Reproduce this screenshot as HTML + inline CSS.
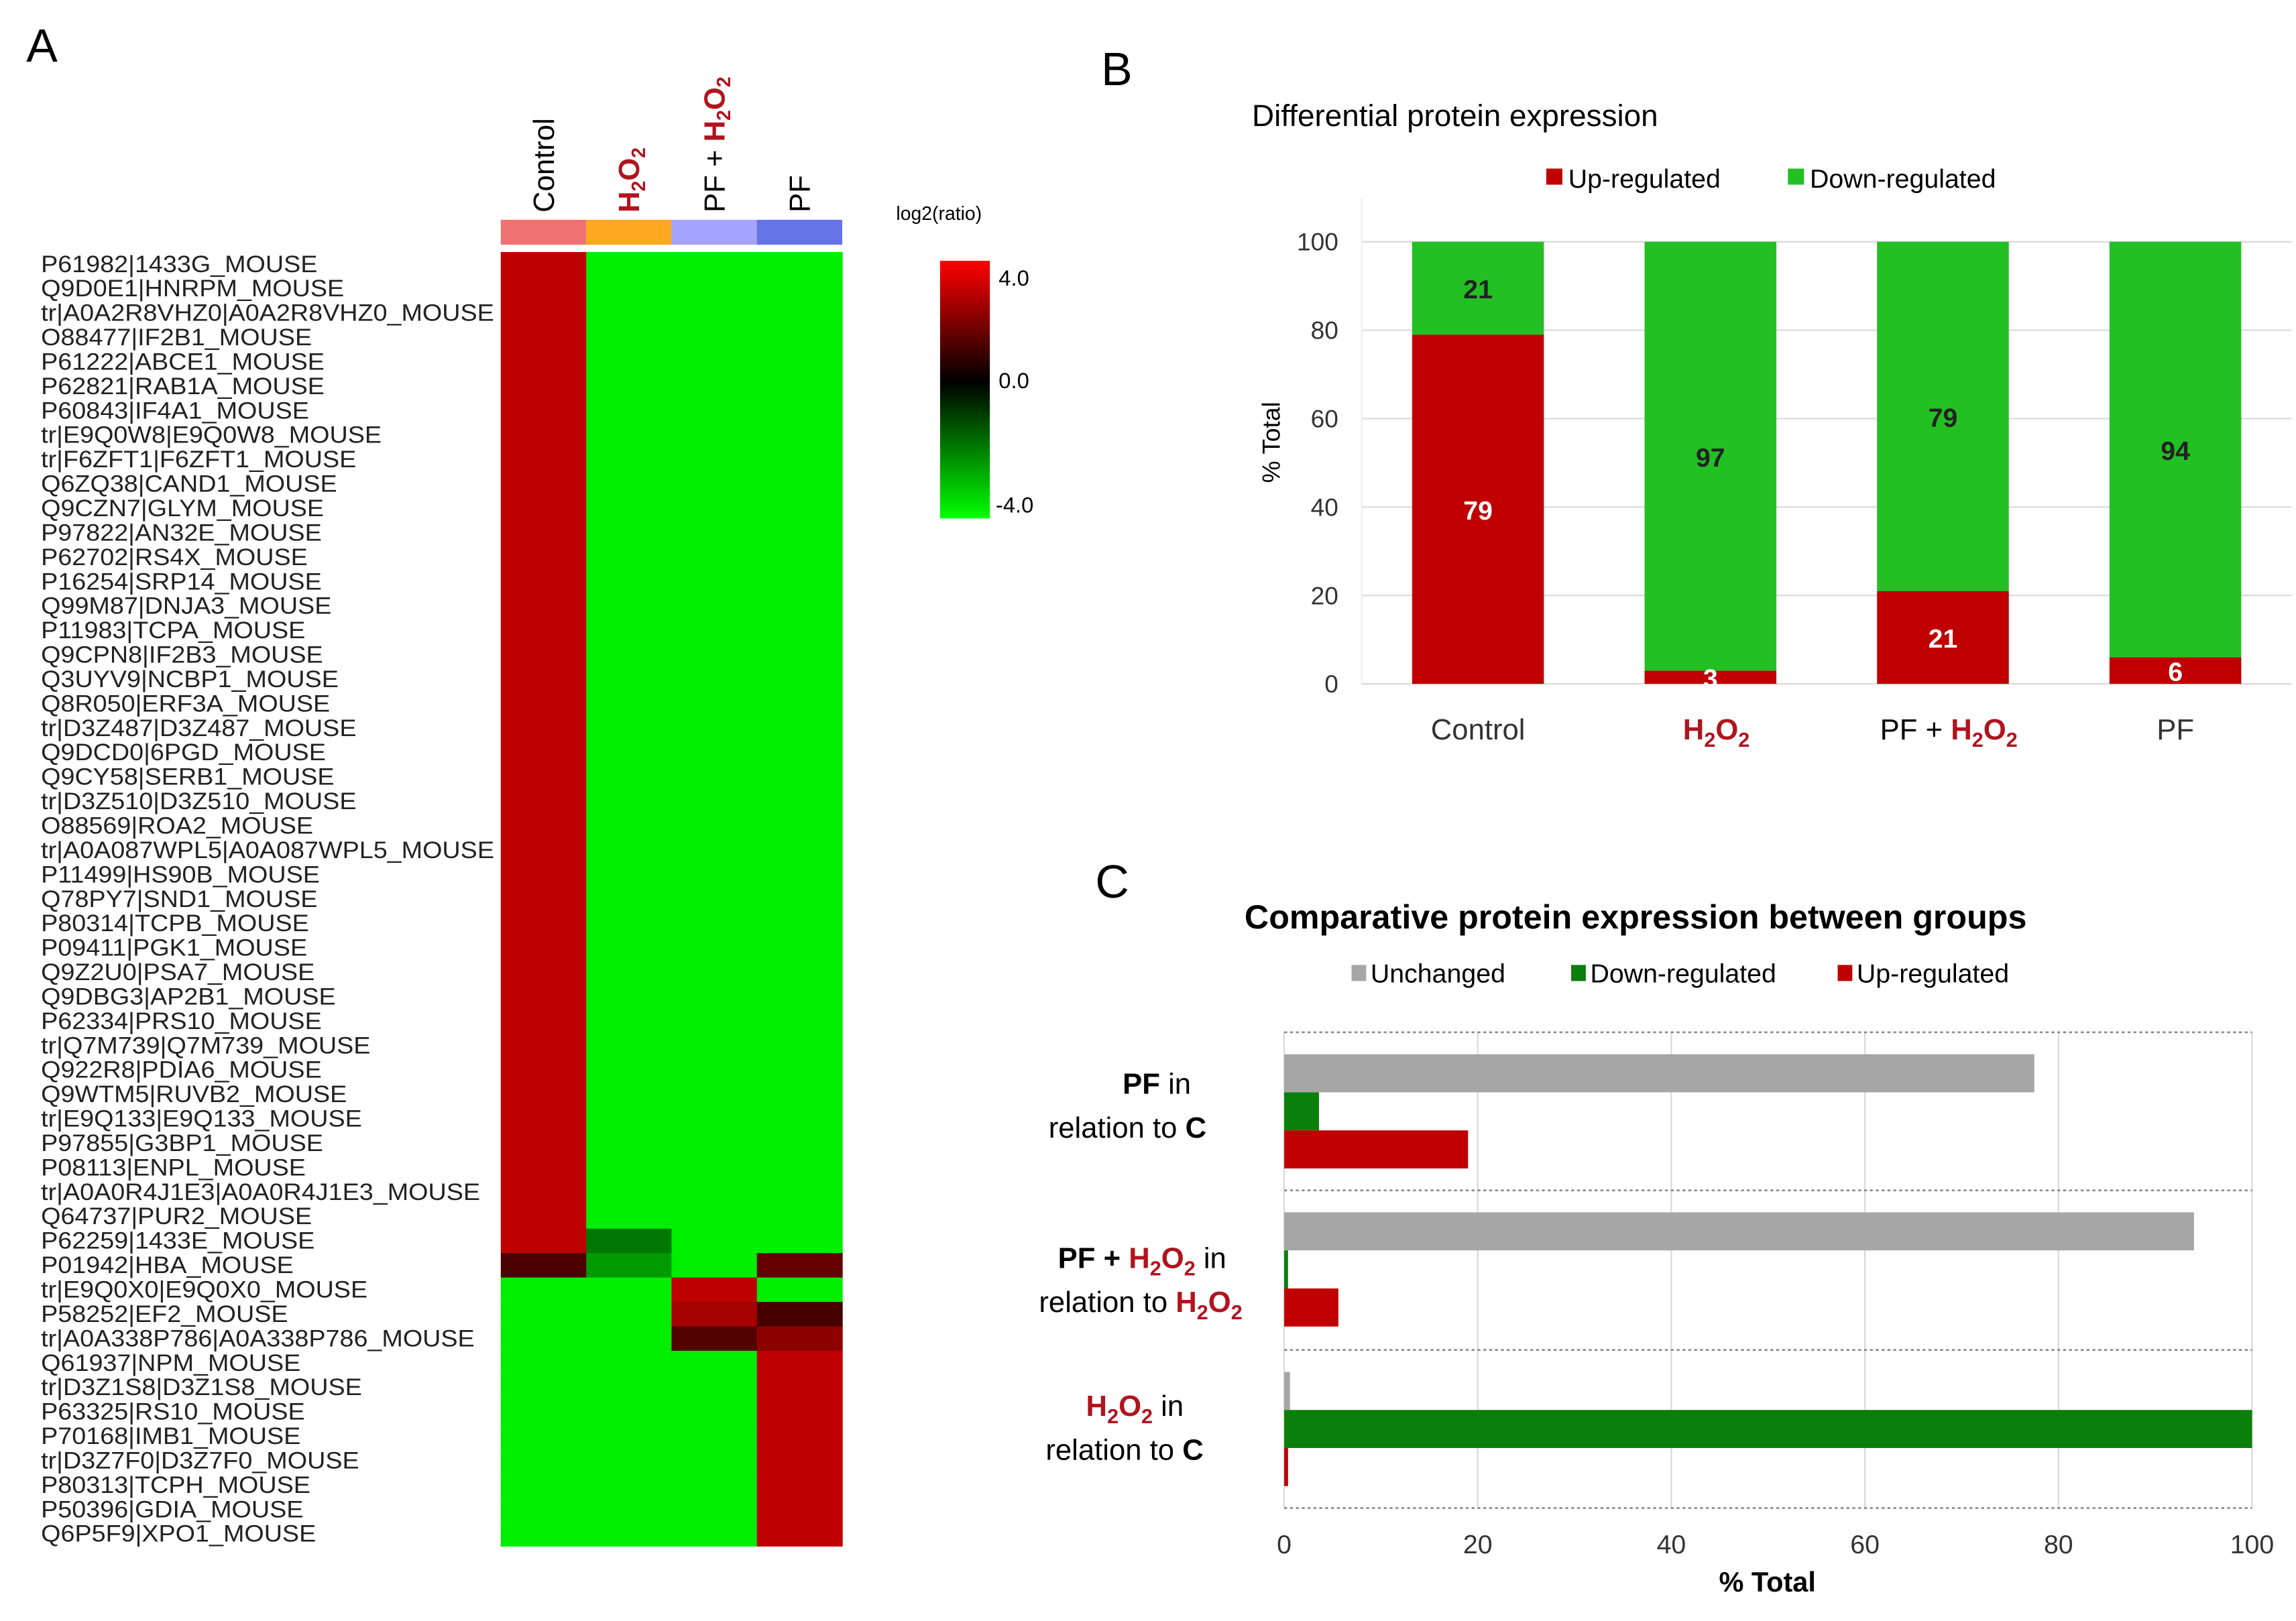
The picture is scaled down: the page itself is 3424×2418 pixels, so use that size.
<!DOCTYPE html>
<html><head><meta charset="utf-8"><style>
html,body{margin:0;padding:0;background:#fff;}
svg{display:block;font-family:"Liberation Sans",Arial,sans-serif;}
</style></head><body>
<svg id="fig" width="3424" height="2418" viewBox="0 0 1568 1107" xmlns="http://www.w3.org/2000/svg">
<rect width="1568" height="1107" fill="#fff"/>
<text x="18" y="42" font-size="32">A</text>
<text x="752" y="58" font-size="32">B</text>
<text x="748" y="613" font-size="32">C</text>
<g id="heat"></g>
<g id="cbar">
<defs><linearGradient id="cg" x1="0" y1="0" x2="0" y2="1">
<stop offset="0" stop-color="#ff0000"/><stop offset="0.47" stop-color="#000"/><stop offset="1" stop-color="#00ff00"/></linearGradient></defs>
<text x="612" y="150" font-size="13">log2(ratio)</text>
<rect x="642" y="178" width="34" height="176" fill="url(#cg)"/>
<text x="682" y="195" font-size="15">4.0</text>
<text x="682" y="265" font-size="15">0.0</text>
<text x="680" y="350" font-size="15">-4.0</text>
</g>
<g id="chartB"></g>
<g id="chartC"></g>
</svg>
<script>
const NS='http://www.w3.org/2000/svg';
function mk(tag,attrs,parent,text){const e=document.createElementNS(NS,tag);for(const k in attrs)e.setAttribute(k,attrs[k]);if(text!==undefined)e.textContent=text;parent.appendChild(e);return e;}

// ---------- Heatmap data ----------
const proteins=["P61982|1433G_MOUSE","Q9D0E1|HNRPM_MOUSE","tr|A0A2R8VHZ0|A0A2R8VHZ0_MOUSE","O88477|IF2B1_MOUSE","P61222|ABCE1_MOUSE","P62821|RAB1A_MOUSE","P60843|IF4A1_MOUSE","tr|E9Q0W8|E9Q0W8_MOUSE","tr|F6ZFT1|F6ZFT1_MOUSE","Q6ZQ38|CAND1_MOUSE","Q9CZN7|GLYM_MOUSE","P97822|AN32E_MOUSE","P62702|RS4X_MOUSE","P16254|SRP14_MOUSE","Q99M87|DNJA3_MOUSE","P11983|TCPA_MOUSE","Q9CPN8|IF2B3_MOUSE","Q3UYV9|NCBP1_MOUSE","Q8R050|ERF3A_MOUSE","tr|D3Z487|D3Z487_MOUSE","Q9DCD0|6PGD_MOUSE","Q9CY58|SERB1_MOUSE","tr|D3Z510|D3Z510_MOUSE","O88569|ROA2_MOUSE","tr|A0A087WPL5|A0A087WPL5_MOUSE","P11499|HS90B_MOUSE","Q78PY7|SND1_MOUSE","P80314|TCPB_MOUSE","P09411|PGK1_MOUSE","Q9Z2U0|PSA7_MOUSE","Q9DBG3|AP2B1_MOUSE","P62334|PRS10_MOUSE","tr|Q7M739|Q7M739_MOUSE","Q922R8|PDIA6_MOUSE","Q9WTM5|RUVB2_MOUSE","tr|E9Q133|E9Q133_MOUSE","P97855|G3BP1_MOUSE","P08113|ENPL_MOUSE","tr|A0A0R4J1E3|A0A0R4J1E3_MOUSE","Q64737|PUR2_MOUSE","P62259|1433E_MOUSE","P01942|HBA_MOUSE","tr|E9Q0X0|E9Q0X0_MOUSE","P58252|EF2_MOUSE","tr|A0A338P786|A0A338P786_MOUSE","Q61937|NPM_MOUSE","tr|D3Z1S8|D3Z1S8_MOUSE","P63325|RS10_MOUSE","P70168|IMB1_MOUSE","tr|D3Z7F0|D3Z7F0_MOUSE","P80313|TCPH_MOUSE","P50396|GDIA_MOUSE","Q6P5F9|XPO1_MOUSE"];
const heatGroups=["Control","H2O2","PF + H2O2","PF"];
const valControl=[3,3,3,3,3,3,3,3,3,3,3,3,3,3,3,3,3,3,3,3,3,3,3,3,3,3,3,3,3,3,3,3,3,3,3,3,3,3,3,3,3,1.2,-4,-4,-4,-4,-4,-4,-4,-4,-4,-4,-4];
const valH2O2=[-4,-4,-4,-4,-4,-4,-4,-4,-4,-4,-4,-4,-4,-4,-4,-4,-4,-4,-4,-4,-4,-4,-4,-4,-4,-4,-4,-4,-4,-4,-4,-4,-4,-4,-4,-4,-4,-4,-4,-4,-2,-2.6,-4,-4,-4,-4,-4,-4,-4,-4,-4,-4,-4];
const valPFH2O2=[-4,-4,-4,-4,-4,-4,-4,-4,-4,-4,-4,-4,-4,-4,-4,-4,-4,-4,-4,-4,-4,-4,-4,-4,-4,-4,-4,-4,-4,-4,-4,-4,-4,-4,-4,-4,-4,-4,-4,-4,-4,-4,3,2.6,1.3,-4,-4,-4,-4,-4,-4,-4,-4];
const valPF=[-4,-4,-4,-4,-4,-4,-4,-4,-4,-4,-4,-4,-4,-4,-4,-4,-4,-4,-4,-4,-4,-4,-4,-4,-4,-4,-4,-4,-4,-4,-4,-4,-4,-4,-4,-4,-4,-4,-4,-4,-4,1.6,-4,1.1,2.2,3,3,3,3,3,3,3,3];
const heatCols=[valControl,valH2O2,valPFH2O2,valPF];
const stripColors=["#f07272","#ffa820","#a4a4ff","#6474e4"];

const heat=document.getElementById('heat');
const hx0=342,hy0=172,cw=58.3,rh=(1056-172)/53;
function colorOf(v){if(v>=0){const r=Math.round(Math.min(v,4)/4*255);return `rgb(${r},0,0)`;}const g=Math.round(Math.min(-v,4)/4*238);return `rgb(0,${g},0)`;}
proteins.forEach((p,i)=>{
  const t=mk('text',{x:28,y:hy0+rh*i+rh*0.82,'font-size':16,fill:'#222'},heat,p);
  
  
  const len=t.getComputedTextLength();
  if(len>0){t.setAttribute('textLength',(len*1.08).toFixed(1));t.setAttribute('lengthAdjust','spacingAndGlyphs');}
});
heatCols.forEach((col,j)=>{
  col.forEach((v,i)=>{
    const r=mk('rect',{x:hx0+cw*j,y:hy0+rh*i,width:cw+0.3,height:rh+0.3,fill:colorOf(v)},heat);
    
    
  });
  const s=mk('rect',{x:hx0+cw*j,y:150,width:cw,height:17,fill:stripColors[j]},heat);
  
  
});
function colHeader(j,parts){
  const cx=hx0+cw*j+cw/2+7;
  const t=mk('text',{transform:`translate(${cx},145) rotate(-90)`,'font-size':20},heat);
  
  
  parts.forEach(p=>{mk('tspan',p.a,t,p.s);});
}
const red='#b0141e';
colHeader(0,[{a:{},s:'Control'}]);
colHeader(1,[{a:{fill:red,'font-weight':'bold'},s:'H'},{a:{fill:red,'font-weight':'bold','font-size':13,dy:4},s:'2'},{a:{fill:red,'font-weight':'bold',dy:-4},s:'O'},{a:{fill:red,'font-weight':'bold','font-size':13,dy:4},s:'2'}]);
colHeader(2,[{a:{},s:'PF + '},{a:{fill:red,'font-weight':'bold'},s:'H'},{a:{fill:red,'font-weight':'bold','font-size':13,dy:4},s:'2'},{a:{fill:red,'font-weight':'bold',dy:-4},s:'O'},{a:{fill:red,'font-weight':'bold','font-size':13,dy:4},s:'2'}]);
colHeader(3,[{a:{},s:'PF'}]);

// ---------- Chart B ----------
const bCategories=["Control","H2O2","PF + H2O2","PF"];
const bUp=[79,3,21,6];
const bDown=[21,97,79,94];
const bTicks=[0,20,40,60,80,100];
const B=document.getElementById('chartB');
const bx0=930,bx1=1565,by0=467,by1=165;
const bY=v=>by0-(v/100)*(by0-by1);
const bStep=(bx1-bx0)/4; const bX=i=>bx0+bStep*(i+0.5); const bw=90;
mk('text',{x:855,y:86,'font-size':21},B,'Differential protein expression');
bTicks.forEach(t=>{
  const l=mk('line',{x1:bx0,x2:bx1,y1:bY(t),y2:bY(t),stroke:'#d9d9d9','stroke-width':1},B);
  
  
  const tx=mk('text',{x:914,y:bY(t)+6,'font-size':17,'text-anchor':'end',fill:'#333'},B,String(t));
  
  
});
mk('line',{x1:bx0,x2:bx0,y1:135,y2:by0,stroke:'#eee'},B);
const yt=mk('text',{transform:'translate(874,302) rotate(-90)','font-size':17,'text-anchor':'middle'},B,'% Total');


mk('rect',{x:1056,y:115,width:11,height:11,fill:'#c00000'},B);
mk('text',{x:1071,y:128,'font-size':18},B,'Up-regulated');
mk('rect',{x:1221,y:115,width:11,height:11,fill:'#22c022'},B);
mk('text',{x:1236,y:128,'font-size':18},B,'Down-regulated');
bCategories.forEach((c,i)=>{
  const cx=bX(i);
  const r1=mk('rect',{x:cx-bw/2,y:bY(bUp[i]),width:bw,height:by0-bY(bUp[i]),fill:'#c00000'},B);
  
  
  const r2=mk('rect',{x:cx-bw/2,y:bY(bUp[i]+bDown[i]),width:bw,height:bY(bUp[i])-bY(bUp[i]+bDown[i]),fill:'#22c022'},B);
  
  
  const l1=mk('text',{x:cx,y:(bY(bUp[i])+by0)/2+7,'font-size':18,'font-weight':'bold',fill:'#fff','text-anchor':'middle'},B,String(bUp[i]));
  
  
  const l2=mk('text',{x:cx,y:(bY(bUp[i]+bDown[i])+bY(bUp[i]))/2+7,'font-size':18,'font-weight':'bold',fill:'#222','text-anchor':'middle'},B,String(bDown[i]));
  
  
  let xl;
  if(c==="H2O2"){xl=mk('text',{x:cx+4,y:505,'font-size':20,'text-anchor':'middle',fill:red,'font-weight':'bold'},B);
    mk('tspan',{},xl,'H');mk('tspan',{'font-size':14,dy:5},xl,'2');mk('tspan',{dy:-5},xl,'O');mk('tspan',{'font-size':14,dy:5},xl,'2');}
  else if(c==="PF + H2O2"){xl=mk('text',{x:cx+4,y:505,'font-size':20,'text-anchor':'middle'},B);
    mk('tspan',{},xl,'PF + ');mk('tspan',{fill:red,'font-weight':'bold'},xl,'H');mk('tspan',{fill:red,'font-weight':'bold','font-size':14,dy:5},xl,'2');mk('tspan',{fill:red,'font-weight':'bold',dy:-5},xl,'O');mk('tspan',{fill:red,'font-weight':'bold','font-size':14,dy:5},xl,'2');}
  else xl=mk('text',{x:cx,y:505,'font-size':20,'text-anchor':'middle',fill:'#333'},B,c);
  
  
});

// ---------- Chart C ----------
const cComparisons=["PF vs C","PF + H2O2 vs H2O2","H2O2 vs C"];
const cUnchanged=[77.5,94,0.6];
const cDown=[3.6,0.4,100];
const cUp=[19,5.6,0.4];
const cTicks=[0,20,40,60,80,100];
const C=document.getElementById('chartC');
const cx0=877,cx1=1538;
const cX=v=>cx0+(v/100)*(cx1-cx0);
const sepY=[705,813,922,1030];
mk('text',{x:1117,y:634,'font-size':23,'font-weight':'bold','text-anchor':'middle'},C,'Comparative protein expression between groups');
[['#a6a6a6','Unchanged',923],['#0a800a','Down-regulated',1073],['#c00000','Up-regulated',1255]].forEach(([col,lab,x])=>{
  const s=mk('rect',{x:x,y:659,width:10,height:11,fill:col},C);
  
  
  const t=mk('text',{x:x+13,y:671,'font-size':18},C,lab);
  
  
});
cTicks.forEach(t=>{
  const l=mk('line',{x1:cX(t),x2:cX(t),y1:705,y2:1030,stroke:'#d9d9d9'},C);
  
  
  const tx=mk('text',{x:cX(t),y:1061,'font-size':18,'text-anchor':'middle',fill:'#333'},C,String(t));
  
  
});
sepY.forEach(y=>{
  const l=mk('line',{x1:cx0,x2:cx1,y1:y,y2:y,stroke:'#888','stroke-dasharray':'2,2','stroke-width':1.2},C);
  
  
});
mk('text',{x:1207,y:1087,'font-size':19,'font-weight':'bold','text-anchor':'middle'},C,'% Total');
const barH=26;
cComparisons.forEach((g,i)=>{
  const top=sepY[i]+15;
  [[cUnchanged,'#a6a6a6','bar-unchanged'],[cDown,'#0a800a','bar-down'],[cUp,'#c00000','bar-up']].forEach(([arr,col,nm],k)=>{
    const r=mk('rect',{x:cX(0),y:top+k*barH,width:cX(arr[i])-cX(0),height:barH,fill:col},C);
    
    
  });
});
function h2o2(t,big,small){mk('tspan',{fill:red,'font-weight':'bold'},t,'H');mk('tspan',{fill:red,'font-weight':'bold','font-size':small,dy:5},t,'2');mk('tspan',{fill:red,'font-weight':'bold',dy:-5},t,'O');mk('tspan',{fill:red,'font-weight':'bold','font-size':small,dy:5},t,'2');}
let t;
t=mk('text',{x:790,y:747,'font-size':20,'text-anchor':'middle'},C);
mk('tspan',{'font-weight':'bold'},t,'PF');mk('tspan',{},t,'  in');
t=mk('text',{x:770,y:777,'font-size':20,'text-anchor':'middle'},C);
mk('tspan',{},t,'relation to ');mk('tspan',{'font-weight':'bold'},t,'C');
t=mk('text',{x:780,y:866,'font-size':20,'text-anchor':'middle'},C);
mk('tspan',{'font-weight':'bold'},t,'PF + ');h2o2(t,20,14);mk('tspan',{dy:-5},t,'  in');
t=mk('text',{x:779,y:896,'font-size':20,'text-anchor':'middle'},C);
mk('tspan',{},t,'relation to ');h2o2(t,20,14);
t=mk('text',{x:775,y:967,'font-size':20,'text-anchor':'middle'},C);
h2o2(t,20,14);mk('tspan',{dy:-5},t,'  in');
t=mk('text',{x:768,y:997,'font-size':20,'text-anchor':'middle'},C);
mk('tspan',{},t,'relation to ');mk('tspan',{'font-weight':'bold'},t,'C');
</script>
</body></html>
